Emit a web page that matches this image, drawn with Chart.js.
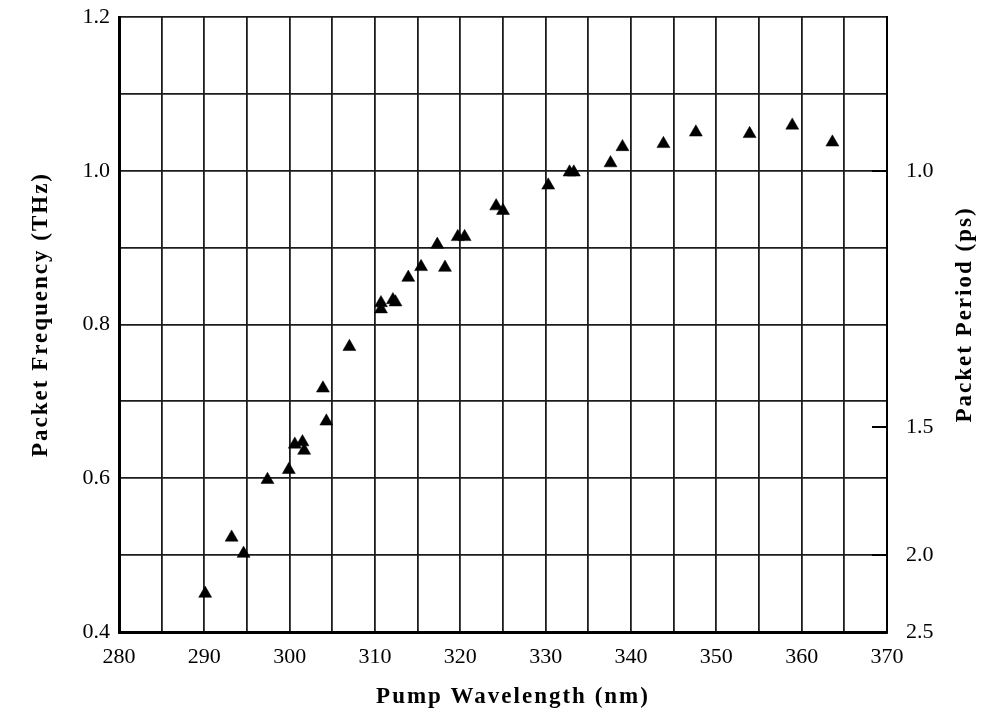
<!DOCTYPE html>
<html>
<head>
<meta charset="utf-8">
<title>Packet Frequency vs Pump Wavelength</title>
<script src="https://cdn.jsdelivr.net/npm/chart.js@4/dist/chart.umd.min.js"></script>
<style>
    html, body { margin: 0; padding: 0; background: #fff; }
    #wrap { width: 981px; height: 723px; }
</style>
</head>
<body>
<div id="wrap"><canvas id="chart" width="981" height="723"></canvas></div>
<script>
// pump wavelength (nm)
var wavelengths = [290.1, 293.2, 294.6, 297.4, 299.9, 300.6, 301.5, 301.7, 303.9, 304.3,
    307.0, 310.7, 310.7, 312.1, 312.4, 313.9, 315.4, 317.3, 318.2, 319.7,
    320.5, 324.2, 325.0, 330.3, 332.8, 333.3, 337.6, 339.0, 343.8, 347.6,
    353.9, 358.9, 363.6];
// packet frequency (THz)
var frequencies = [0.450, 0.523, 0.502, 0.598, 0.611, 0.644, 0.647, 0.636, 0.717, 0.674,
    0.771, 0.828, 0.820, 0.832, 0.829, 0.861, 0.875, 0.904, 0.874, 0.914,
    0.914, 0.954, 0.948, 0.981, 0.998, 0.998, 1.010, 1.031, 1.035, 1.050,
    1.048, 1.059, 1.037];

// labelled ticks on each axis
var x_labels = [280, 290, 300, 310, 320, 330, 340, 350, 360, 370];
var y_labels = [0.4, 0.6, 0.8, 1.0, 1.2];
// packet period (ps) marks on the right, placed at frequency = 1 / period
var periods = [1.0, 1.5, 2.0, 2.5];

var tick_font = { family: '"Liberation Serif", "Times New Roman", serif', size: 22 };
var grid_color = "#1c1c1c";

// fixed scale sizes; drop the label overhang padding so the plot box stays put
function fix_size(w, h) {
    return function(scale) {
        if (w) scale.width = w;
        if (h) scale.height = h;
        scale.paddingTop = 0;
        scale.paddingBottom = 0;
        scale.paddingLeft = 0;
        scale.paddingRight = 0;
    };
}

// axis titles drawn by hand so both side titles read bottom to top
var axis_titles = {
    id: "axis_titles",
    afterDraw: function(chart) {
        var ctx = chart.ctx;
        var area = chart.chartArea;
        var mid_y = (area.top + area.bottom) / 2 - 10;
        ctx.save();
        ctx.font = 'bold 23px "Liberation Serif", "Times New Roman", serif';
        ctx.fillStyle = "#000";
        ctx.letterSpacing = "2px";
        ctx.textAlign = "center";
        ctx.textBaseline = "middle";

        ctx.fillText("Pump Wavelength (nm)", (area.left + area.right) / 2 + 10, chart.height - 26);

        var sides = [["Packet Frequency (THz)", 41], ["Packet Period (ps)", chart.width - 16]];
        for (var i = 0; i < sides.length; i++) {
            ctx.save();
            ctx.translate(sides[i][1], mid_y);
            ctx.rotate(-Math.PI / 2);
            ctx.fillText(sides[i][0], 0, 0);
            ctx.restore();
        }
        ctx.restore();
    }
};

var points = [];
for (var i = 0; i < wavelengths.length; i++) {
    points.push({ x: wavelengths[i], y: frequencies[i] });
}

var ctx = document.getElementById("chart");

var scatter_chart = new Chart(ctx, {
    type: "scatter",
    data: {
        datasets: [{
            label: "packet frequency",
            data: points,
            pointStyle: "triangle",
            pointRadius: 7.5,
            pointBackgroundColor: "#000",
            pointBorderColor: "#000",
            pointBorderWidth: 0.5
        }]
    },
    options: {
        responsive: false,
        animation: false,
        layout: { padding: { top: 17 } },
        plugins: {
            legend: { display: false },
            tooltip: { enabled: false }
        },
        scales: {
            x: {
                type: "linear",
                min: 280,
                max: 370,
                afterFit: fix_size(0, 91),
                ticks: {
                    stepSize: 5,
                    padding: 12,
                    color: "#000",
                    font: tick_font,
                    maxRotation: 0,
                    autoSkip: false,
                    callback: function(value) {
                        return x_labels.indexOf(value) >= 0 ? String(value) : "";
                    }
                },
                grid: { color: grid_color, lineWidth: 1.8, drawTicks: false },
                border: { color: "#000", width: 3 }
            },
            y: {
                position: "left",
                min: 0.4,
                max: 1.2,
                afterFit: fix_size(119, 0),
                ticks: {
                    stepSize: 0.1,
                    padding: 9,
                    color: "#000",
                    font: tick_font,
                    autoSkip: false,
                    callback: function(value) {
                        var v = Math.round(value * 10) / 10;
                        return y_labels.indexOf(v) >= 0 ? v.toFixed(1) : "";
                    }
                },
                grid: { color: grid_color, lineWidth: 1.8, drawTicks: false },
                border: { color: "#000", width: 3 }
            },
            period: {
                position: "right",
                min: 0.4,
                max: 1.2,
                afterFit: fix_size(94, 0),
                afterBuildTicks: function(scale) {
                    scale.ticks = periods.map(function(p) { return { value: 1 / p }; });
                },
                ticks: {
                    padding: 34,
                    color: "#000",
                    font: tick_font,
                    callback: function(value) { return (1 / value).toFixed(1); }
                },
                // short marks pointing into the plot
                grid: { drawOnChartArea: false, tickLength: -15, color: "#000", lineWidth: 2 },
                border: { color: "#000", width: 2 }
            }
        }
    },
    plugins: [axis_titles]
});
</script>
</body>
</html>
